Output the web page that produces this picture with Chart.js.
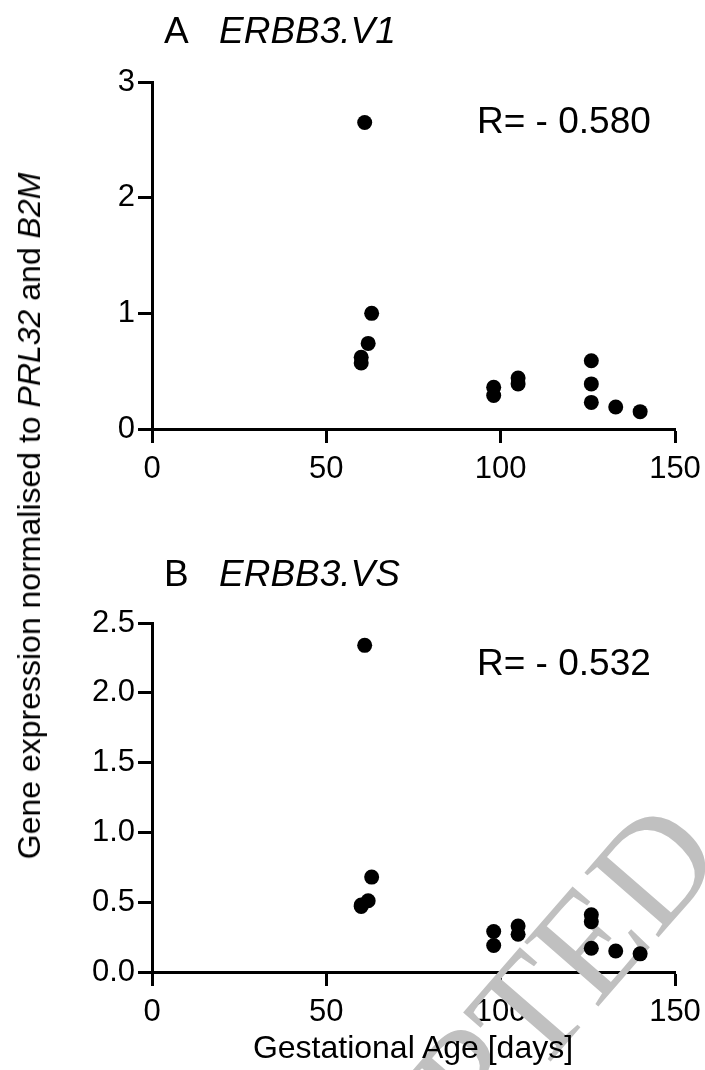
<!DOCTYPE html>
<html>
<head>
<meta charset="utf-8">
<script src="https://cdn.jsdelivr.net/npm/chart.js@4.4.0/dist/chart.umd.min.js"></script>
<style>
  body { margin: 0; background: #fff; }
  #wrap { position: relative; width: 705px; height: 1070px; overflow: hidden; font-family: "Liberation Sans", Arial, sans-serif; color: #000; }
  canvas { position: absolute; left: 0; }
  .txt { position: absolute; white-space: nowrap; line-height: 1; }
  .big { font-size: 37px; }
  .lab { font-size: 32px; }
  #ylab { left: 29px; top: 516px; transform: translate(-50%, -50%) rotate(-90deg); }
</style>
</head>
<body>
<div id="wrap">
  <canvas id="chartA" width="705" height="500" style="top:0"></canvas>
  <canvas id="chartB" width="705" height="570" style="top:500px"></canvas>

  <div class="txt big" style="left:164px; top:12px">A</div>
  <div class="txt big" style="left:219px; top:12px"><i>ERBB3.V1</i></div>
  <div class="txt big" style="left:477px; top:102px">R= - 0.580</div>

  <div class="txt big" style="left:164px; top:555px">B</div>
  <div class="txt big" style="left:219px; top:555px"><i>ERBB3.VS</i></div>
  <div class="txt big" style="left:477px; top:644px">R= - 0.532</div>

  <div id="ylab" class="txt lab">Gene expression normalised to <i>PRL32</i> and <i>B2M</i></div>
  <div class="txt lab" style="left:413px; top:1031px; transform: translateX(-50%)">Gestational Age [days]</div>
</div>
<script>
// gestational age (days) and expression values
const agesA = [61, 63, 62, 60, 60, 98, 98, 105, 105, 126, 126, 126, 133, 140];
const valuesA = [2.65, 1.0, 0.74, 0.62, 0.57, 0.36, 0.29, 0.44, 0.39, 0.59, 0.39, 0.23, 0.19, 0.15];

const agesB = [61, 63, 62, 60, 60, 98, 98, 105, 105, 126, 126, 126, 133, 140];
const valuesB = [2.34, 0.68, 0.51, 0.48, 0.47, 0.29, 0.19, 0.33, 0.27, 0.41, 0.36, 0.17, 0.15, 0.13];

const xTicks = [0, 50, 100, 150];
const yTicksA = [0, 1, 2, 3];
const yTicksB = [0, 0.5, 1.0, 1.5, 2.0, 2.5];

const watermark = 'ACCEPTED';

function toPoints(xs, ys) {
    return xs.map((x, i) => ({ x: x, y: ys[i] }));
}

const tickFont = { family: "'Liberation Sans', Arial, sans-serif", size: 31 };

function axisStyle() {
    return {
        border: { display: true, color: '#000', width: 3 },
        grid: { display: true, drawOnChartArea: false, drawTicks: true, tickLength: 14, tickWidth: 3, tickColor: '#000' },
    };
}

function makeOptions(yTicks, topPad, xHeight, decimals) {
    return {
        responsive: false,
        animation: false,
        devicePixelRatio: 1,
        layout: { autoPadding: false, padding: { left: 60, right: 30, top: topPad, bottom: 0 } },
        plugins: { legend: { display: false }, tooltip: { enabled: false } },
        scales: {
            x: {
                type: 'linear',
                min: xTicks[0],
                max: xTicks[xTicks.length - 1],
                ...axisStyle(),
                afterBuildTicks: (scale) => { scale.ticks = xTicks.map(v => ({ value: v })); },
                ticks: { color: '#000', font: tickFont, padding: 8, maxRotation: 0 },
                afterFit: (scale) => {
                    scale.height = xHeight;
                    scale.paddingLeft = 0;
                    scale.paddingRight = 0;
                }
            },
            y: {
                type: 'linear',
                min: yTicks[0],
                max: yTicks[yTicks.length - 1],
                ...axisStyle(),
                afterBuildTicks: (scale) => { scale.ticks = yTicks.map(v => ({ value: v })); },
                ticks: {
                    color: '#000', font: tickFont, padding: 3,
                    callback: (v) => v.toFixed(decimals)
                },
                afterFit: (scale) => {
                    scale.width = 92;
                    scale.paddingTop = 0;
                    scale.paddingBottom = 0;
                }
            }
        }
    };
}

function dataset(xs, ys) {
    return {
        data: toPoints(xs, ys),
        backgroundColor: '#000',
        borderColor: '#000',
        borderWidth: 0,
        pointRadius: 7.5,
        pointHoverRadius: 7.5,
        showLine: false
    };
}

new Chart(document.getElementById('chartA'), {
    type: 'scatter',
    data: { datasets: [dataset(agesA, valuesA)] },
    options: makeOptions(yTicksA, 82, 71, 0)
});

// grey diagonal stamp across the lower right corner
const stampPlugin = {
    id: 'stamp',
    beforeDatasetsDraw(chart) {
        const ctx = chart.ctx;
        ctx.save();
        ctx.translate(697, 333);
        ctx.rotate(-49 * Math.PI / 180);
        ctx.font = "150px 'Liberation Serif', 'Times New Roman', serif";
        ctx.fillStyle = '#c0c0c0';
        ctx.textAlign = 'right';
        ctx.textBaseline = 'middle';
        ctx.fillText(watermark, 0, 0);
        ctx.restore();
    }
};

new Chart(document.getElementById('chartB'), {
    type: 'scatter',
    data: { datasets: [dataset(agesB, valuesB)] },
    options: makeOptions(yTicksB, 123, 98, 1),
    plugins: [stampPlugin]
});
</script>
</body>
</html>
